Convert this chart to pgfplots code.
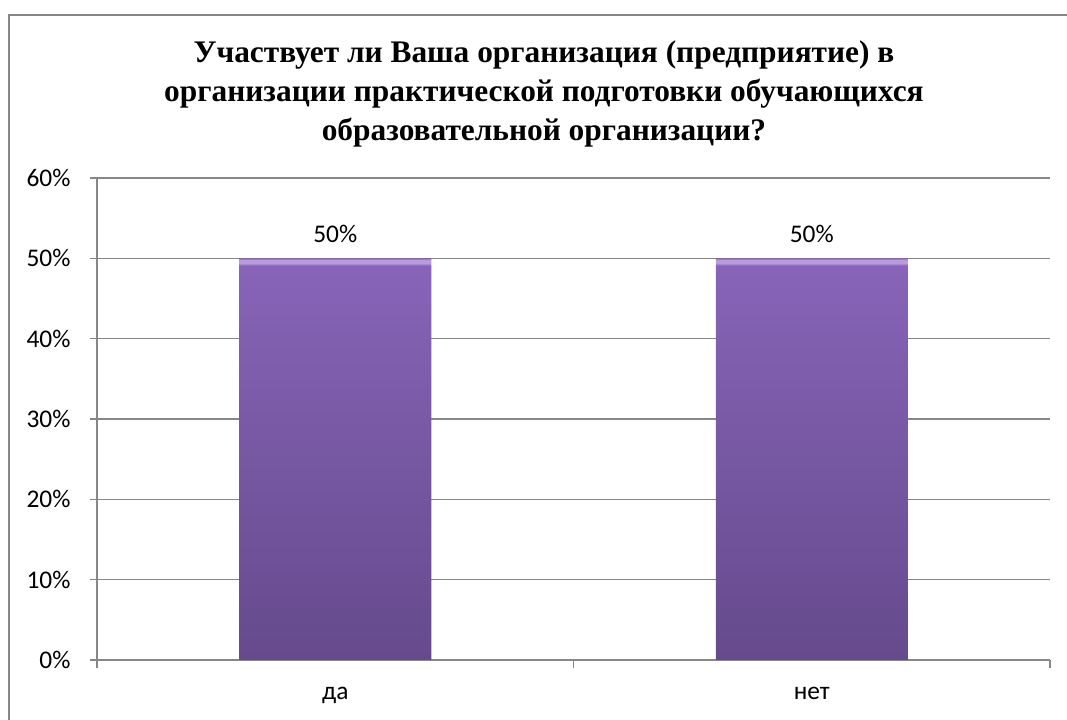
\documentclass[border=0pt]{standalone}
\usepackage{fontspec}
\setmainfont{Liberation Serif}
\newfontfamily\calibri{Carlito}
\usepackage{pgfplots}
\pgfplotsset{compat=1.18}

\definecolor{framegray}{HTML}{878787}
\definecolor{bartop}{HTML}{8764B8}
\definecolor{barbot}{HTML}{654A8C}
\definecolor{barlight}{HTML}{BA9CDE}

% bar fill: dark at bottom, lighter towards top, thin bright bevel on top
\pgfdeclareverticalshading{barshade}{100bp}{%
  color(0bp)=(barbot); color(25bp)=(barbot); color(74.1bp)=(bartop);
  color(74.4bp)=(barlight); color(74.8bp)=(barlight); color(75bp)=(bartop);
  color(100bp)=(bartop)}

\begin{document}
\begin{tikzpicture}
\useasboundingbox (0,0) rectangle (1067bp,720bp);
\draw[framegray, line width=1.6bp] (9bp,-10bp) rectangle (1090bp,705bp);

% title
\begin{scope}[every node/.style={anchor=base, inner sep=0pt,
    font=\fontsize{31.5}{39}\selectfont\bfseries}]
\node at (544bp,657bp) {Участвует ли Ваша организация (предприятие) в};
\node at (544bp,618bp) {организации практической подготовки обучающихся};
\node at (544bp,579bp) {образовательной организации?};
\end{scope}

\begin{axis}[
  at={(97bp,60bp)}, anchor=south west,
  width=953bp, height=482bp, scale only axis,
  xmin=0.5, xmax=2.5, ymin=0, ymax=60,
  axis x line*=bottom, axis y line*=left,
  axis line style={framegray, line width=1.2bp},
  ytick={0,10,...,60},
  yticklabels={0\%,10\%,20\%,30\%,40\%,50\%,60\%},
  xtick={1,2}, xticklabels={да,нет},
  minor xtick={0.5,1.5,2.5},
  tick align=outside,
  major tick length=7bp, minor tick length=8bp,
  x tick style={draw=none},
  minor x tick style={draw=framegray, line width=1.2bp},
  y tick style={framegray, line width=1.2bp},
  ymajorgrids, grid style={framegray, line width=1.2bp},
  ticklabel style={font=\calibri\fontsize{25.5}{30}\selectfont, text=black},
  yticklabel style={xshift=-16bp},
  xticklabel style={yshift=-17bp},
  ybar, bar width=192bp,
  nodes near coords={\pgfmathprintnumber[assume math mode=true]{\pgfplotspointmeta}\%},
  every node near coord/.append style={font=\calibri\fontsize{25.5}{30}\selectfont,
    text=black, anchor=base, yshift=16bp},
]
\addplot[draw=none, shade, shading=barshade]
  coordinates {(1,50) (2,50)};
\end{axis}
\end{tikzpicture}
\end{document}
